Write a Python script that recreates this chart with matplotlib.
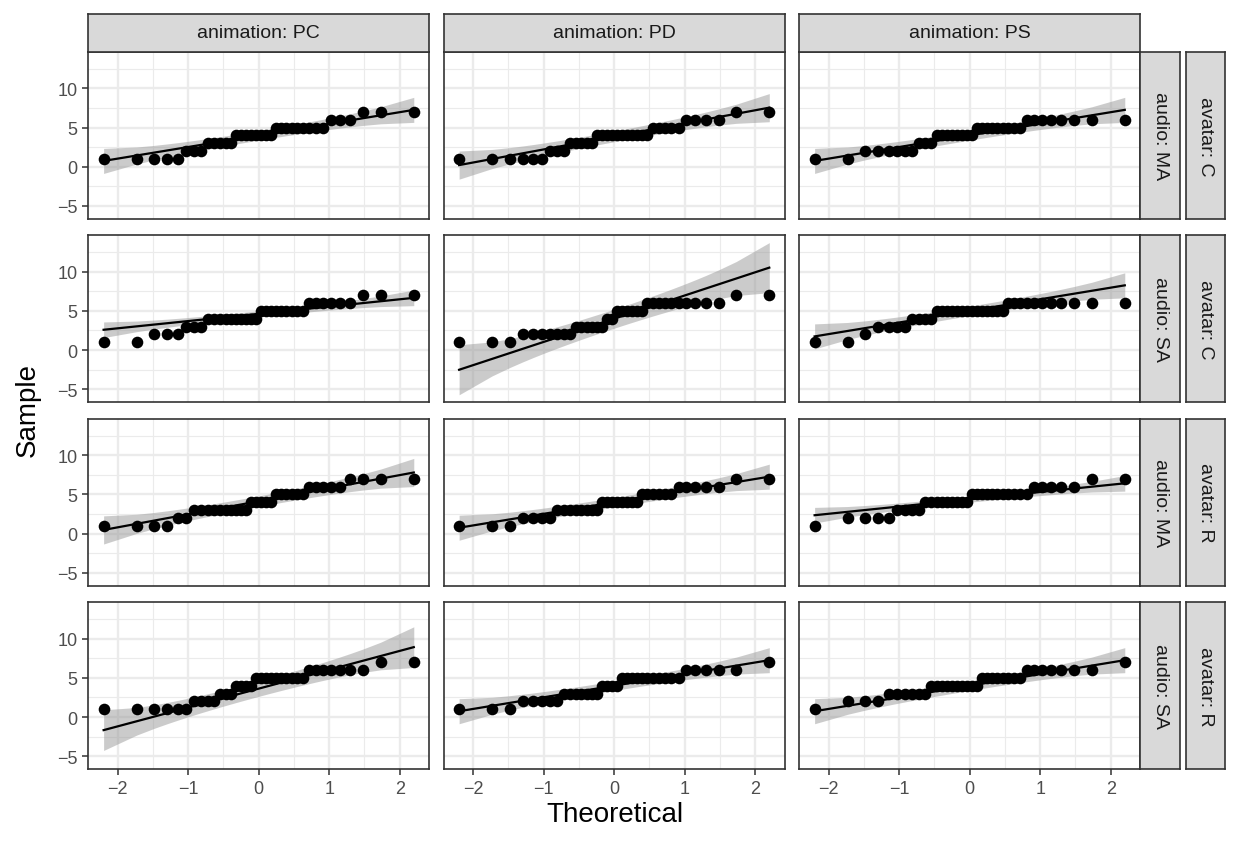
import numpy as np
import matplotlib.pyplot as plt
from matplotlib.ticker import MultipleLocator
from statistics import NormalDist

plt.rcParams['font.family'] = ['Liberation Sans', 'DejaVu Sans']

# facet levels
animations = ['PC', 'PD', 'PS']
rows = [('MA', 'C'), ('SA', 'C'), ('MA', 'R'), ('SA', 'R')]  # (audio, avatar)
scores = [1, 2, 3, 4, 5, 6, 7]

# number of answers per score (1..7), 36 per cell
c_ma_pc = [5, 3, 5, 8, 9, 3, 3]
c_ma_pd = [6, 3, 5, 11, 5, 4, 2]
c_ma_ps = [2, 6, 3, 8, 9, 8, 0]
c_sa_pc = [2, 3, 3, 10, 9, 6, 3]
c_sa_pd = [3, 7, 6, 2, 6, 10, 2]
c_sa_ps = [2, 1, 4, 4, 14, 11, 0]
r_ma_pc = [4, 2, 10, 5, 6, 5, 4]
r_ma_pd = [3, 4, 8, 8, 6, 5, 2]
r_ma_ps = [1, 4, 4, 9, 11, 5, 2]
r_sa_pc = [6, 4, 3, 4, 10, 7, 2]
r_sa_pd = [3, 5, 7, 4, 11, 5, 1]
r_sa_ps = [1, 3, 6, 10, 8, 7, 1]

counts = [[c_ma_pc, c_ma_pd, c_ma_ps],
          [c_sa_pc, c_sa_pd, c_sa_ps],
          [r_ma_pc, r_ma_pd, r_ma_ps],
          [r_sa_pc, r_sa_pd, r_sa_ps]]

W, H = 1235, 845
fig = plt.figure(figsize=(W / 100, H / 100), dpi=100)


def box(x0, y0, w, h):
    return [x0 / W, 1 - (y0 + h) / H, w / W, h / H]


lefts = [88.1, 443.6, 799.1]
tops = [52.7, 236.0, 419.5, 603.0]
pw, ph = 341.2, 167.4

nd = NormalDist()
zcrit = nd.inv_cdf(0.975)
grey20 = '#333333'

first = None
for r in range(4):
    for c in range(3):
        ax = fig.add_axes(box(lefts[c], tops[r], pw, ph), sharex=first, sharey=first)
        if first is None:
            first = ax
        sample = np.repeat(scores, counts[r][c]).astype(float)
        n = len(sample)
        p = (np.arange(1, n + 1) - 0.5) / n
        theo = np.array([nd.inv_cdf(v) for v in p])
        dens = np.array([nd.pdf(v) for v in theo])
        # qq line through the quartiles
        q1, q3 = np.quantile(sample, [0.25, 0.75])
        slope = (q3 - q1) / (nd.inv_cdf(0.75) - nd.inv_cdf(0.25))
        inter = q1 - slope * nd.inv_cdf(0.25)
        fit = inter + slope * theo
        se = slope / dens * np.sqrt(p * (1 - p) / n)
        ax.fill_between(theo, fit - zcrit * se, fit + zcrit * se,
                        color='#999999', alpha=0.5, lw=0, zorder=2)
        ax.plot(theo, fit, color='black', lw=1.6, zorder=3)
        ax.scatter(theo, sample, s=70, color='black', lw=0, zorder=4)

        ax.xaxis.set_major_locator(MultipleLocator(1))
        ax.xaxis.set_minor_locator(MultipleLocator(0.5))
        ax.yaxis.set_major_locator(MultipleLocator(5))
        ax.yaxis.set_minor_locator(MultipleLocator(2.5))
        ax.grid(which='major', color='#ebebeb', lw=1.7)
        ax.grid(which='minor', color='#ebebeb', lw=0.85)
        ax.set_axisbelow(True)
        for s in ax.spines.values():
            s.set_color(grey20)
            s.set_linewidth(1.2)
        ax.tick_params(which='minor', length=0)
        ax.tick_params(which='major', length=4.3, width=1.1, color=grey20,
                       labelcolor='#4d4d4d', labelsize=13, pad=3.3)
        if c != 0:
            ax.tick_params(axis='y', length=0, labelleft=False)
        if r != 3:
            ax.tick_params(axis='x', length=0, labelbottom=False)

        # top strips
        if r == 0:
            st = fig.add_axes(box(lefts[c], 14.7, pw, 38.0))
            st.set_facecolor('#d9d9d9')
            st.set_xticks([])
            st.set_yticks([])
            for s in st.spines.values():
                s.set_color(grey20)
                s.set_linewidth(1.2)
            st.text(0.5, 0.5, 'animation: ' + animations[c], ha='center', va='center',
                    fontsize=14, color='#1a1a1a', transform=st.transAxes)
        # right strips
        if c == 2:
            labels = ['audio: ' + rows[r][0], 'avatar: ' + rows[r][1]]
            for k, x0 in enumerate([1140.3, 1185.5]):
                st = fig.add_axes(box(x0, tops[r], 39.5, ph))
                st.set_facecolor('#d9d9d9')
                st.set_xticks([])
                st.set_yticks([])
                for s in st.spines.values():
                    s.set_color(grey20)
                    s.set_linewidth(1.2)
                st.text(0.5, 0.5, labels[k], ha='center', va='center', rotation=-90,
                        fontsize=14, color='#1a1a1a', transform=st.transAxes)

first.margins(0.05)

fig.text(28 / W, 1 - 410 / H, 'Sample', rotation=90, ha='center', va='center',
         fontsize=20, color='black')
fig.text(614.7 / W, 1 - 815 / H, 'Theoretical', ha='center', va='center',
         fontsize=20, color='black')

fig.savefig('out.png', dpi=100)
